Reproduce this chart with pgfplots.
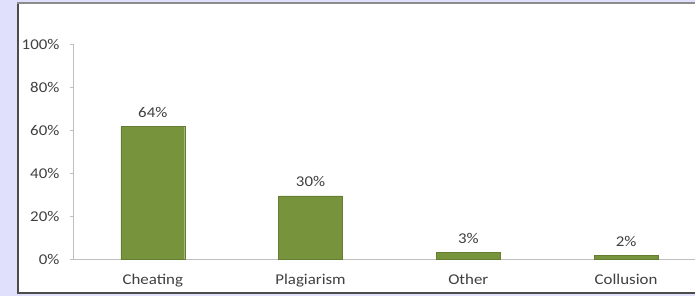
\documentclass[border=0pt]{standalone}
\usepackage{pgfplots}
\pgfplotsset{compat=1.18}
\usepackage{fontspec}
\setmainfont[FakeStretch=1.13]{Carlito}
\definecolor{bgl}{HTML}{E0E0FC}
\definecolor{barg}{HTML}{77933C}
\definecolor{txt}{HTML}{404040}
\definecolor{axl}{HTML}{BFBFBF}
\begin{document}
\begin{tikzpicture}[x=1bp,y=1bp]
\fill[bgl] (0,0) rectangle (696,296);
\fill[white] (17,3) rectangle (696,293);
\draw[black!70, line width=2bp] (18,3) -- (18,293);
\draw[black!70, line width=2bp] (17,3) -- (696,3);
\draw[black!45, line width=1.2bp] (17,293) -- (696,293);
\begin{axis}[
  at={(74bp,36.5bp)}, anchor=south west,
  scale only axis, width=622bp, height=215bp,
  xmin=-0.5, xmax=3.437, ymin=0, ymax=100,
  axis x line=bottom, axis y line=left,
  axis line style={axl, line width=0.8bp, -},
  ybar, bar width=64bp,
  xtick={0,1,2,3},
  xticklabels={Cheating,Plagiarism,Other,Collusion},
  minor xtick={-0.5,0.5,1.5,2.5},
  ytick={0,20,40,60,80,100},
  yticklabels={0\%,20\%,40\%,60\%,80\%,100\%},
  tick align=outside,
  major tick length=4bp, minor tick length=4bp,
  xtick style={draw=none},
  minor tick style={axl, line width=0.8bp},
  ytick style={axl, line width=0.8bp},
  tick label style={font=\fontsize{15}{18}\selectfont, text=txt},
  xticklabel style={yshift=-8bp},
  yticklabel style={xshift=-7bp},
  nodes near coords,
  point meta=explicit symbolic,
  every node near coord/.append style={font=\fontsize{15}{18}\selectfont, text=txt, yshift=6bp},
  clip=false,
]
\addplot[fill=barg, draw=barg!85!black, line width=0.4bp] coordinates {
  (0,61.7) [64\%]
  (1,29.5) [30\%]
  (2,3.0) [3\%]
  (3,1.6) [2\%]
};
\end{axis}
\end{tikzpicture}
\end{document}
